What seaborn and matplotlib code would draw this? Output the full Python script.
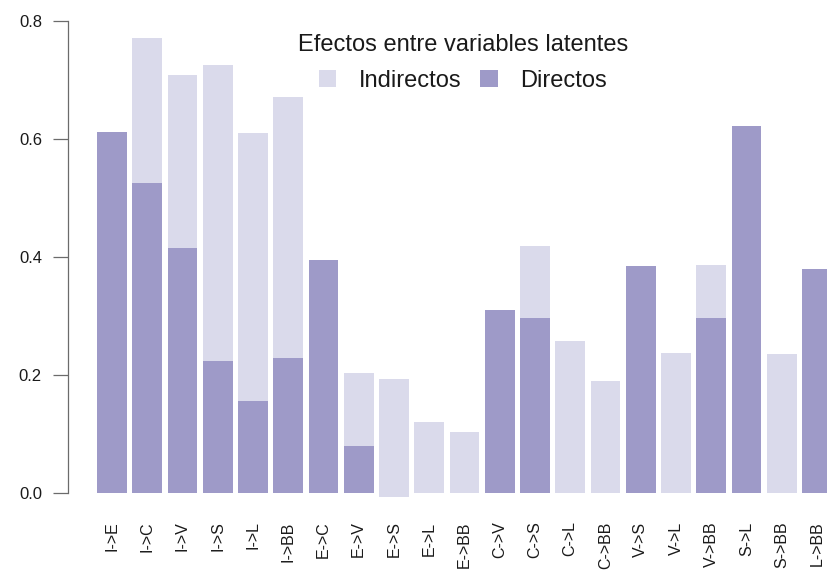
import matplotlib
matplotlib.use("Agg")
import matplotlib.pyplot as plt
from matplotlib.patches import Patch
import pandas as pd
import seaborn as sns

# effects between latent variables
paths = ["I->E", "I->C", "I->V", "I->S", "I->L", "I->BB", "E->C", "E->V", "E->S",
         "E->L", "E->BB", "C->V", "C->S", "C->L", "C->BB", "V->S", "V->L", "V->BB",
         "S->L", "S->BB", "L->BB"]
directos = [0.612, 0.525, 0.415, 0.224, 0.156, 0.229, 0.395, 0.080, -0.006,
            0.0, 0.0, 0.311, 0.296, 0.0, 0.0, 0.385, 0.0, 0.296,
            0.622, 0.0, 0.380]
indirectos = [0.0, 0.246, 0.293, 0.501, 0.454, 0.442, 0.0, 0.123, 0.199,
              0.120, 0.104, 0.0, 0.122, 0.258, 0.190, 0.0, 0.238, 0.090,
              0.0, 0.236, 0.0]

COL_DIR = "#9E9AC8"
COL_IND = "#DADAEB"
AXCOL = "#6b6b6b"
TXT = "#1a1a1a"

sns.set_style("white")
plt.rcParams["font.family"] = ["Liberation Sans", "DejaVu Sans"]

df = pd.DataFrame({"path": paths, "dir": directos, "ind": indirectos})

fig = plt.figure(figsize=(8.28, 5.74), dpi=100)
# axes placed so the spine sits at x=68px and the plot runs off the right edge
ax = fig.add_axes([68 / 828, 1 - 504.8 / 574, 1 - 68 / 828, (504.8 - 9.2) / 574])

# directos at the bottom of the stack, indirectos stacked on top
sns.barplot(data=df, x="path", y="dir", color=COL_DIR, width=0.84,
            saturation=1, linewidth=0, ax=ax)
sns.barplot(data=df, x="path", y="ind", color=COL_IND, width=0.84,
            saturation=1, linewidth=0, bottom=df["dir"].values, ax=ax)

ax.set_xlim(-1.248, 20.312)
ax.set_ylim(-0.02, 0.82)
ax.set_xlabel("")
ax.set_ylabel("")

for s in ["top", "right", "bottom"]:
    ax.spines[s].set_visible(False)
ax.spines["left"].set_bounds(0, 0.8)
ax.spines["left"].set_color(AXCOL)
ax.spines["left"].set_linewidth(0.9)

ax.set_yticks([0.0, 0.2, 0.4, 0.6, 0.8])
ax.set_yticklabels(["0.0", "0.2", "0.4", "0.6", "0.8"])
ax.tick_params(axis="y", length=10.8, width=0.9, color=AXCOL, pad=8,
               labelsize=12, labelcolor=TXT, left=True)
ax.tick_params(axis="x", length=0, pad=12, labelsize=11.5, labelcolor=TXT,
               rotation=90)

handles = [Patch(facecolor=COL_IND, edgecolor="none"),
           Patch(facecolor=COL_DIR, edgecolor="none")]
leg = fig.legend(handles, ["Indirectos", "Directos"], title="Efectos entre variables latentes",
                 ncol=2, frameon=False, loc="upper center",
                 bbox_to_anchor=(463 / 828, 1 - 22 / 574),
                 fontsize=17, title_fontsize=17, borderpad=0,
                 handlelength=0.75, handleheight=0.7, handletextpad=0.95,
                 columnspacing=0.8, labelspacing=0.6)
for t in leg.get_texts():
    t.set_color(TXT)
leg.get_title().set_color(TXT)

fig.savefig("out.png", dpi=100)
